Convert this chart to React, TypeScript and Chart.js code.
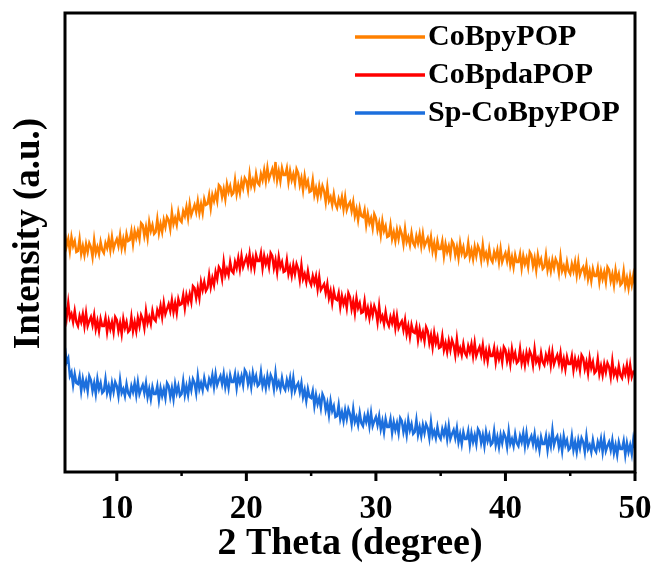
import React, { useEffect, useRef } from "react";
import { Chart, registerables } from "chart.js";

Chart.register(...registerables);

// ---- data ----
const X_START = 6;
const X_STEP = 0.125;
const X_MIN = 6;
const X_MAX = 50;
const MAJOR_TICKS = [10, 20, 30, 40, 50];
const MINOR_TICKS = [15, 25, 35, 45];
const SERIES_LABELS = ["CoBpyPOP", "CoBpdaPOP", "Sp-CoBpyPOP"];
const SERIES_COLORS = ["#FF8000", "#FF0000", "#1C6FDD"];
const X_TITLE = "2 Theta (degree)";
const Y_TITLE = "Intensity (a.u.)";

// one row per degree (6 .. 49), 8 readings per degree, final value at 50
const CoBpyPOP = [
  238, 226, 233, 221, 235, 226, 231, 220,
  221, 233, 218, 226, 217, 228, 220, 229,
  225, 215, 232, 219, 225, 218, 230, 222,
  219, 229, 224, 233, 222, 235, 223, 229,
  233, 226, 237, 224, 233, 224, 238, 231,
  232, 241, 228, 241, 234, 241, 233, 249,
  247, 236, 245, 234, 250, 241, 247, 238,
  240, 253, 239, 248, 240, 252, 245, 255,
  252, 243, 260, 248, 254, 247, 260, 252,
  250, 261, 256, 265, 254, 268, 257, 262,
  267, 260, 271, 259, 268, 259, 273, 267,
  268, 277, 264, 277, 271, 279, 271, 287,
  285, 275, 283, 273, 288, 280, 286, 277,
  279, 292, 278, 287, 279, 291, 284, 294,
  291, 282, 298, 286, 292, 285, 298, 289,
  287, 298, 292, 302, 291, 304, 293, 298,
  303, 295, 310, 292, 301, 291, 304, 297,
  297, 304, 290, 301, 292, 298, 289, 303,
  299, 287, 294, 282, 296, 286, 291, 280,
  281, 292, 277, 284, 275, 286, 277, 286,
  281, 270, 285, 271, 275, 267, 278, 268,
  264, 273, 267, 275, 263, 275, 262, 267,
  270, 261, 270, 256, 263, 252, 264, 256,
  255, 262, 247, 258, 249, 254, 244, 258,
  254, 242, 249, 237, 251, 241, 246, 235,
  236, 247, 233, 240, 231, 242, 233, 243,
  238, 228, 243, 230, 235, 227, 239, 229,
  226, 236, 229, 238, 226, 238, 226, 230,
  234, 225, 235, 221, 229, 218, 231, 223,
  223, 231, 216, 228, 220, 226, 217, 231,
  228, 217, 225, 214, 229, 219, 225, 215,
  217, 229, 215, 222, 213, 225, 216, 226,
  222, 212, 227, 214, 219, 211, 223, 213,
  210, 220, 214, 222, 210, 223, 210, 215,
  219, 211, 221, 207, 215, 205, 217, 210,
  210, 218, 204, 216, 208, 214, 205, 220,
  217, 206, 214, 202, 217, 208, 213, 203,
  205, 217, 202, 210, 201, 212, 204, 213,
  209, 199, 215, 201, 206, 199, 210, 201,
  198, 208, 201, 210, 197, 210, 197, 202,
  205, 197, 207, 193, 201, 191, 203, 196,
  196, 204, 190, 201, 193, 200, 190, 205,
  202, 191, 198, 187, 202, 192, 198, 187,
  189, 201, 186, 194, 184, 196, 187, 197,
  187,
];

const CoBpdaPOP = [
  165, 154, 169, 154, 158, 150, 161, 150,
  146, 156, 150, 158, 146, 159, 146, 151,
  155, 147, 157, 143, 151, 141, 153, 146,
  146, 154, 140, 151, 143, 150, 140, 155,
  152, 141, 149, 138, 153, 144, 150, 140,
  142, 155, 141, 150, 141, 154, 146, 157,
  153, 144, 161, 149, 155, 148, 161, 153,
  151, 162, 157, 166, 155, 169, 158, 163,
  168, 161, 172, 160, 169, 159, 173, 167,
  168, 177, 164, 177, 170, 178, 170, 186,
  184, 174, 184, 174, 190, 182, 190, 181,
  184, 197, 185, 194, 187, 200, 193, 205,
  202, 193, 210, 197, 203, 197, 210, 201,
  199, 210, 204, 214, 203, 216, 205, 210,
  215, 207, 218, 205, 214, 204, 217, 211,
  211, 219, 204, 216, 208, 214, 205, 219,
  216, 204, 212, 200, 215, 205, 210, 200,
  201, 212, 198, 205, 196, 207, 198, 208,
  203, 192, 207, 193, 198, 190, 201, 191,
  187, 196, 189, 196, 183, 195, 182, 185,
  188, 179, 188, 174, 181, 169, 181, 173,
  172, 179, 165, 176, 168, 174, 164, 179,
  175, 163, 171, 159, 174, 164, 169, 159,
  160, 171, 157, 164, 154, 165, 157, 166,
  161, 150, 166, 152, 156, 148, 160, 150,
  146, 155, 149, 157, 144, 156, 144, 148,
  151, 142, 152, 138, 146, 135, 147, 140,
  139, 146, 132, 143, 134, 140, 131, 145,
  141, 129, 137, 125, 139, 129, 135, 124,
  125, 136, 122, 129, 120, 131, 122, 132,
  127, 117, 133, 119, 124, 117, 128, 119,
  116, 126, 120, 128, 116, 129, 116, 121,
  125, 117, 127, 113, 121, 111, 123, 116,
  116, 124, 110, 121, 113, 120, 110, 125,
  122, 111, 119, 108, 123, 113, 119, 109,
  111, 123, 109, 117, 107, 119, 111, 121,
  117, 107, 123, 110, 114, 107, 119, 110,
  107, 117, 111, 120, 107, 120, 108, 113,
  117, 109, 119, 105, 113, 103, 115, 108,
  108, 116, 102, 113, 105, 112, 102, 117,
  114, 103, 110, 99, 114, 104, 110, 99,
  101, 113, 98, 106, 97, 108, 100, 109,
  105, 95, 111, 97, 102, 95, 106, 97,
  94, 104, 98, 107, 95, 107, 95, 100,
  98,
];

const SpCoBpyPOP = [
  124, 110, 114, 96, 100, 87, 98, 89,
  88, 96, 81, 93, 84, 91, 81, 96,
  92, 81, 89, 78, 93, 83, 89, 79,
  81, 93, 79, 86, 77, 89, 80, 90,
  86, 76, 92, 79, 83, 76, 88, 79,
  76, 86, 80, 89, 77, 90, 78, 83,
  87, 79, 89, 75, 83, 73, 85, 78,
  78, 86, 72, 84, 76, 83, 74, 89,
  86, 75, 84, 73, 88, 79, 86, 76,
  78, 91, 77, 86, 77, 90, 82, 93,
  89, 79, 96, 83, 89, 82, 94, 86,
  83, 93, 88, 97, 85, 98, 87, 92,
  96, 88, 98, 85, 94, 84, 97, 90,
  90, 98, 84, 96, 89, 96, 87, 102,
  99, 88, 96, 85, 99, 90, 96, 86,
  88, 100, 86, 93, 84, 96, 87, 97,
  93, 83, 99, 85, 90, 83, 94, 85,
  82, 92, 85, 94, 81, 94, 81, 86,
  89, 80, 89, 75, 82, 71, 83, 75,
  74, 81, 66, 77, 68, 74, 64, 78,
  74, 62, 69, 57, 71, 61, 66, 55,
  56, 67, 53, 60, 51, 62, 53, 63,
  58, 48, 63, 50, 55, 47, 59, 49,
  46, 56, 50, 58, 46, 59, 46, 51,
  55, 47, 56, 43, 51, 40, 53, 45,
  45, 53, 39, 50, 42, 49, 39, 54,
  51, 40, 48, 37, 52, 42, 48, 38,
  40, 52, 37, 45, 36, 47, 39, 48,
  44, 34, 50, 36, 41, 34, 45, 36,
  33, 43, 37, 45, 33, 46, 33, 38,
  42, 34, 44, 30, 38, 28, 40, 33,
  33, 41, 27, 39, 30, 37, 28, 43,
  40, 29, 37, 26, 40, 31, 37, 27,
  29, 41, 27, 35, 25, 37, 29, 39,
  35, 25, 41, 28, 33, 26, 38, 29,
  26, 36, 30, 39, 26, 39, 27, 32,
  36, 28, 38, 25, 32, 22, 35, 28,
  28, 36, 22, 34, 26, 42, 27, 33,
  36, 25, 33, 21, 36, 27, 32, 22,
  24, 36, 22, 30, 20, 32, 24, 34,
  30, 20, 36, 23, 27, 20, 32, 23,
  20, 30, 24, 33, 20, 33, 21, 26,
  30, 22, 32, 19, 27, 17, 30, 23,
  23, 31, 17, 29, 20, 27, 18, 33,
  24,
];

const SERIES_VALUES = [CoBpyPOP, CoBpdaPOP, SpCoBpyPOP];

const FONT = '"Liberation Serif", "Times New Roman", serif';

const framePlugin = {
  id: "frameLegend",
  afterDatasetsDraw(chart: any) {
    const { ctx, chartArea: a, scales } = chart;
    const x = scales.x;
    ctx.save();
    ctx.strokeStyle = "#000";
    ctx.lineWidth = 3;
    ctx.strokeRect(a.left, a.top, a.right - a.left, a.bottom - a.top);
    ctx.lineWidth = 3;
    ctx.beginPath();
    MAJOR_TICKS.forEach((v) => {
      const px = x.getPixelForValue(v);
      ctx.moveTo(px, a.bottom);
      ctx.lineTo(px, a.bottom + 9);
    });
    ctx.stroke();
    ctx.lineWidth = 2.5;
    ctx.beginPath();
    MINOR_TICKS.forEach((v) => {
      const px = x.getPixelForValue(v);
      ctx.moveTo(px, a.bottom);
      ctx.lineTo(px, a.bottom + 4);
    });
    ctx.stroke();

    // y-axis title
    ctx.save();
    ctx.fillStyle = "#000";
    ctx.font = `bold 37px ${FONT}`;
    ctx.textAlign = "center";
    ctx.textBaseline = "middle";
    ctx.translate(a.left - 36, (a.top + a.bottom) / 2 - 9);
    ctx.rotate(-Math.PI / 2);
    ctx.fillText(Y_TITLE, 0, 0);
    ctx.restore();

    // legend
    const lx0 = a.right - 280;
    const lx1 = a.right - 210;
    const rows = [a.top + 24, a.top + 62, a.top + 100];
    ctx.font = `bold 30px ${FONT}`;
    ctx.textBaseline = "middle";
    ctx.textAlign = "left";
    chart.data.datasets.forEach((ds: any, i: number) => {
      const y = rows[i];
      ctx.strokeStyle = ds.borderColor;
      ctx.lineWidth = 3.5;
      ctx.beginPath();
      ctx.moveTo(lx0, y);
      ctx.lineTo(lx1, y);
      ctx.stroke();
      ctx.fillStyle = "#000";
      ctx.fillText(ds.label, lx1 + 3, y);
    });
    ctx.restore();
  },
};

export default function App() {
  const ref = useRef<HTMLCanvasElement | null>(null);
  useEffect(() => {
    document.body.style.margin = "0";
    const canvas = ref.current;
    if (!canvas) return;
    const datasets = SERIES_VALUES.map((vals, i) => ({
      label: SERIES_LABELS[i],
      data: vals.map((v, k) => ({ x: X_START + k * X_STEP, y: v })),
      borderColor: SERIES_COLORS[i],
      backgroundColor: SERIES_COLORS[i],
      borderWidth: 2.4,
      pointRadius: 0,
      tension: 0,
      fill: false,
    }));
    const chart = new Chart(canvas, {
      type: "line",
      data: { datasets },
      options: {
        responsive: false,
        animation: false,
        layout: { padding: { top: 13, right: 25, left: 0, bottom: 0 } },
        plugins: { legend: { display: false }, tooltip: { enabled: false } },
        scales: {
          x: {
            type: "linear",
            min: X_MIN,
            max: X_MAX,
            grid: { display: false },
            border: { display: false },
            afterBuildTicks: (s: any) => {
              s.ticks = MAJOR_TICKS.map((v) => ({ value: v }));
            },
            afterFit: (s: any) => {
              s.height = 95;
              s.paddingLeft = 0;
              s.paddingRight = 0;
            },
            ticks: {
              color: "#000",
              font: { family: FONT, size: 33, weight: "bold" },
              padding: 10,
              maxRotation: 0,
              autoSkip: false,
            },
            title: {
              display: true,
              text: X_TITLE,
              color: "#000",
              font: { family: FONT, size: 38, weight: "bold" },
              padding: { top: 0, bottom: 0 },
            },
          },
          y: {
            min: 0,
            max: 459,
            grid: { display: false },
            border: { display: false },
            ticks: { display: false },
            title: { display: false },
            afterFit: (s: any) => {
              s.width = 65;
            },
          },
        },
      } as any,
      plugins: [framePlugin],
    });
    return () => chart.destroy();
  }, []);
  return (
    <div style={{ width: 660, height: 567 }}>
      <canvas ref={ref} width={660} height={567} style={{ display: "block" }} />
    </div>
  );
}
